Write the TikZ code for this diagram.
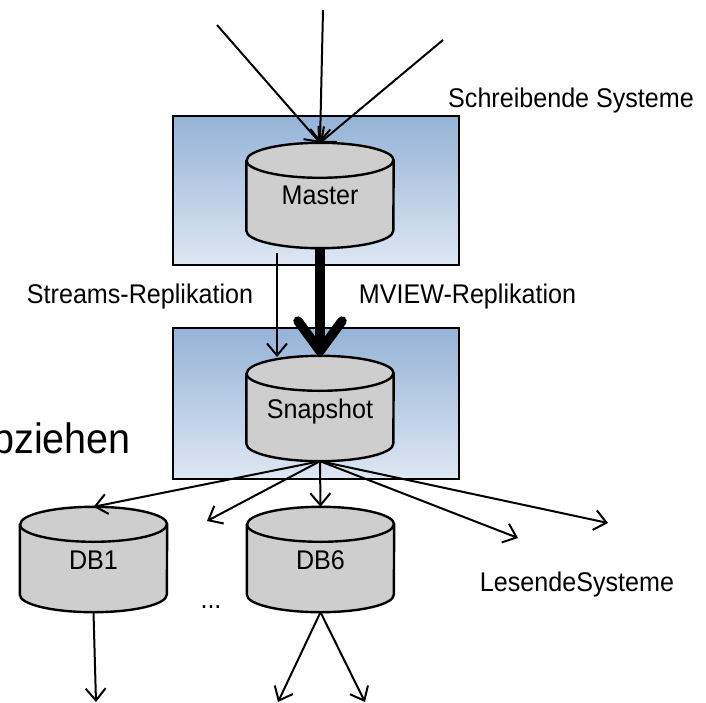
\documentclass[tikz,border=0pt]{standalone}
\usepackage{fontspec}
\setmainfont{Liberation Sans}[FakeStretch=0.93]
\usetikzlibrary{arrows.meta}

\definecolor{boxtop}{RGB}{149,179,215}
\definecolor{boxbot}{RGB}{222,231,243}
\definecolor{cylgrey}{RGB}{206,206,206}

\pgfdeclarelayer{panels}
\pgfdeclarelayer{cylinders}
\pgfsetlayers{panels,cylinders,main}

\tikzset{
  txt/.style={font=\fontsize{27}{30}\selectfont},
  lbl/.style={txt, inner sep=0pt, text height=19pt, text depth=0pt},
  panel/.style={draw=black, line width=2pt, top color=boxtop, bottom color=boxbot, inner sep=0pt},
  dbnode/.style={txt, inner sep=0pt, minimum width=147pt, minimum height=105pt,
                 text height=19pt, text depth=0pt},
  cylbody/.style={fill=cylgrey, draw=black, line width=2.4pt, line join=round},
  flow/.style={draw=black, line width=2pt, -{Straight Barb[length=12pt,width=20pt]}},
  bigflow/.style={draw=black, line width=9.5pt, -{Straight Barb[round,length=30pt,width=44pt]}},
}

% database drum drawn around a rectangular node
\newcommand\dbcylinder[1]{%
  \begin{pgfonlayer}{cylinders}
  \path[cylbody] ([yshift=-17.5pt]#1.north west) -- ([yshift=17.5pt]#1.south west)
     arc[start angle=180,end angle=360,x radius=73.5pt,y radius=17.5pt]
     -- ([yshift=-17.5pt]#1.north east)
     arc[start angle=0,end angle=180,x radius=73.5pt,y radius=17.5pt] -- cycle;
  \draw[line width=2.4pt] ([yshift=-17.5pt]#1.north west)
     arc[start angle=180,end angle=360,x radius=73.5pt,y radius=17.5pt];
  \end{pgfonlayer}}

\begin{document}
\begin{tikzpicture}[x=1pt,y=-1pt]
\useasboundingbox (0,0) rectangle (706,703);
\clip (0,0) rectangle (706,703);

% framed system groups
\begin{pgfonlayer}{panels}
\node[panel, minimum width=286pt, minimum height=149pt] (writers) at (316,190.5) {};
\node[panel, minimum width=286pt, minimum height=151pt] (replica) at (316,403.5) {};
\end{pgfonlayer}

% databases
\node[dbnode] (master) at (320,195.5) {Master};
\node[dbnode] (snapshot) at (320,408.5) {Snapshot};
\node[dbnode] (db1) at (93.5,559.5) {DB1};
\node[dbnode] (db6) at (320.5,559.5) {DB6};
\dbcylinder{master}
\dbcylinder{snapshot}
\dbcylinder{db1}
\dbcylinder{db6}

% labels
\node[lbl, anchor=west] (writersLbl) at (448,98) {Schreibende Systeme};
\node[lbl] (streamsLbl) at (140,294) {Streams-Replikation};
\node[lbl] (mviewLbl) at (467.5,294) {MVIEW-Replikation};
\node[lbl] (readersLbl) at (577,582) {LesendeSysteme};
\node[txt, anchor=base, inner sep=0pt] (dots) at (211,608) {...};
\node[font=\fontsize{42.5}{46}\selectfont, anchor=base east, inner sep=0pt] (pullLbl) at (131,453) {bziehen};

% free ends of connectors
\coordinate (inA) at (217,25);
\coordinate (inB) at (323,10);
\coordinate (inC) at (443,40);
\coordinate (streamsFrom) at (277,253);
\coordinate (streamsTo) at (277,357);
\coordinate (outB) at (207,521);
\coordinate (outD) at (518,538);
\coordinate (outE) at (608,523);
\coordinate (db1Out) at (96,702);
\coordinate (db6OutA) at (278,702);
\coordinate (db6OutB) at (365,702);

% writing systems
\draw[flow] (inA) -- (master.north);
\draw[flow] (inB) -- (master.north);
\draw[flow] (inC) -- (master.north);

% replication
\draw[flow] (streamsFrom) -- (streamsTo);
\draw[bigflow] (master.south) -- (snapshot.north);

% reading systems
\draw[flow] (snapshot.south) -- (db1.north);
\draw[flow] (snapshot.south) -- (outB);
\draw[flow] (snapshot.south) -- (db6.north);
\draw[flow] (snapshot.south) -- (outD);
\draw[flow] (snapshot.south) -- (outE);
\draw[flow] (db1.south) -- (db1Out);
\draw[flow] (db6.south) -- (db6OutA);
\draw[flow] (db6.south) -- (db6OutB);
\end{tikzpicture}
\end{document}
